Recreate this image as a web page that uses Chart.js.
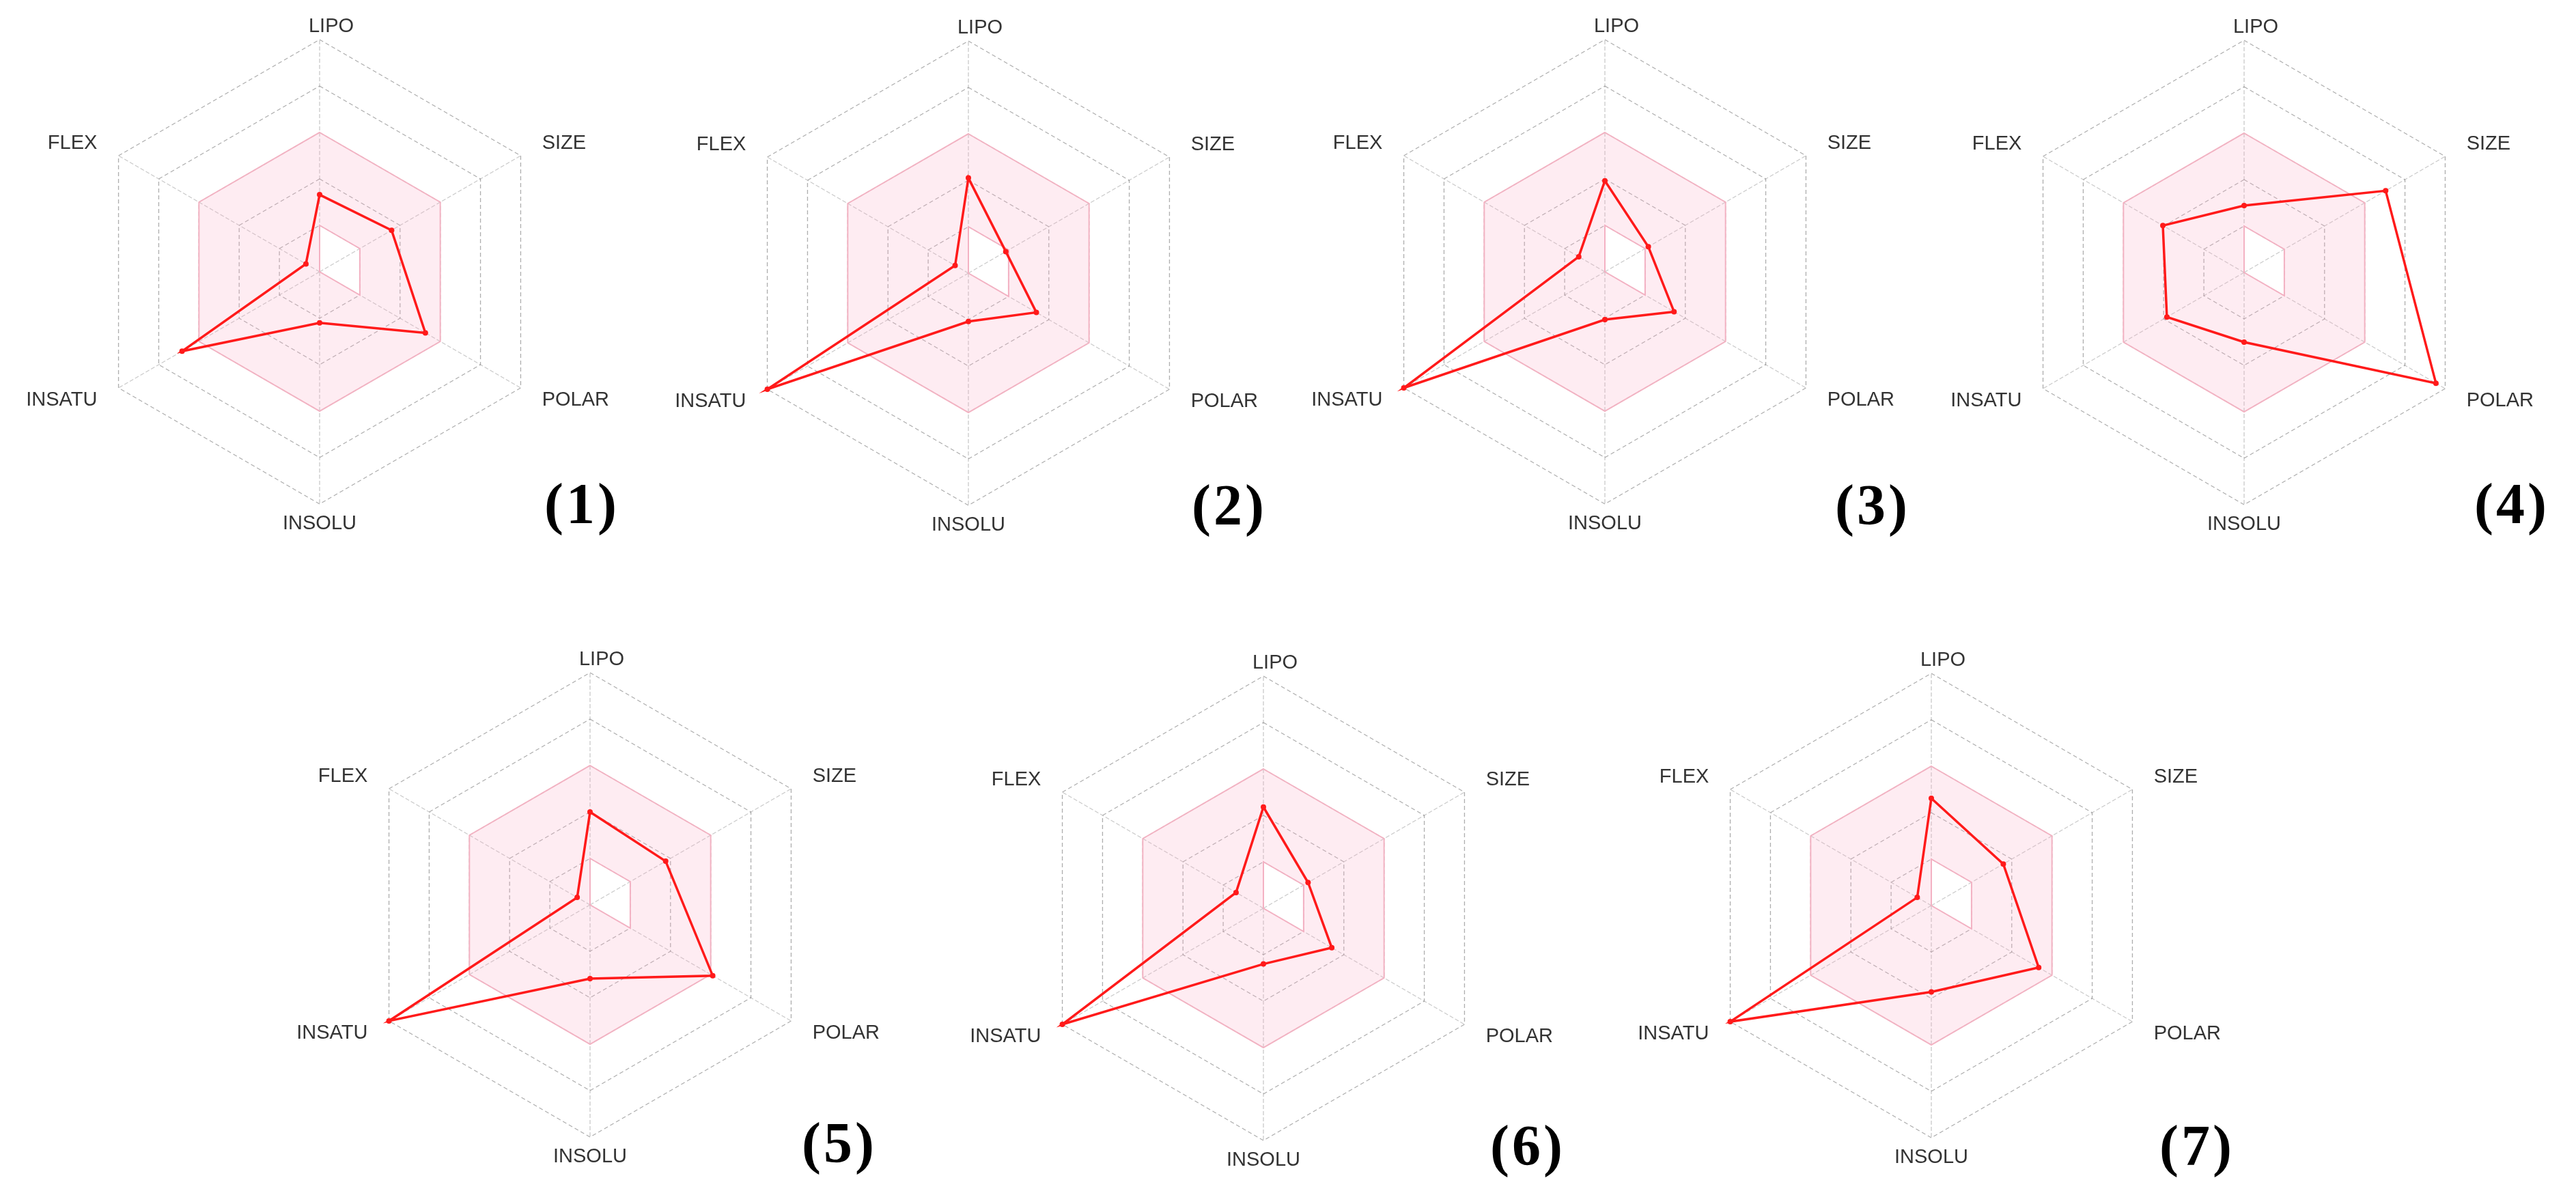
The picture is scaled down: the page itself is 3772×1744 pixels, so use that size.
<!DOCTYPE html>
<html>
<head>
<meta charset="utf-8">
<title>Bioavailability radars</title>
<script src="https://cdn.jsdelivr.net/npm/chart.js@4.4.1/dist/chart.umd.min.js"></script>
<style>
  html, body { margin: 0; padding: 0; background: #fff; }
  body { position: relative; width: 3772px; height: 1744px; overflow: hidden; }
  canvas { position: absolute; }
  .tag {
    position: absolute;
    font-family: "Liberation Serif", "Times New Roman", serif;
    font-weight: bold;
    font-size: 84px;
    letter-spacing: 4px;
    line-height: 1;
    color: #000;
  }
</style>
</head>
<body>
<script>
// axes, clockwise from the top
const axisLabels = ['LIPO', 'SIZE', 'POLAR', 'INSOLU', 'INSATU', 'FLEX'];

// pink band (optimal range), in ring units 0-5
const optimalUpper = [3, 3, 3, 3, 3, 3];
const optimalLower = [1, 1, 1, 0, 0, 0];

// red line of each compound
const compound1 = [1.66, 1.79, 2.63, 1.10, 3.42, 0.34];
const compound2 = [2.05, 0.93, 1.69, 1.04, 5.00, 0.33];
const compound3 = [1.96, 1.08, 1.72, 1.03, 5.00, 0.65];
const compound4 = [1.44, 3.52, 4.77, 1.50, 1.92, 2.02];
const compound5 = [2.00, 1.88, 3.05, 1.59, 5.00, 0.32];
const compound6 = [2.18, 1.11, 1.70, 1.20, 5.00, 0.68];
const compound7 = [2.31, 1.79, 2.67, 1.86, 5.00, 0.35];

const panelTags = ['(1)', '(2)', '(3)', '(4)', '(5)', '(6)', '(7)'];
const compounds = [compound1, compound2, compound3, compound4, compound5, compound6, compound7];

// page layout: radar centre and tag position of each panel
const panels = [
    { cx: 468,  cy: 398,  tx: 797,  ty: 740 },
    { cx: 1418, cy: 400,  tx: 1745, ty: 742 },
    { cx: 2350, cy: 398,  tx: 2687, ty: 742 },
    { cx: 3286, cy: 399,  tx: 3623, ty: 740 },
    { cx: 864,  cy: 1325, tx: 1174, ty: 1676 },
    { cx: 1850, cy: 1330, tx: 2182, ty: 1680 },
    { cx: 2828, cy: 1326, tx: 3162, ty: 1680 }
];

const W = 1100, H = 880, R = 340;

// axis names drawn next to the outer vertices
const axisNamePlugin = {
    id: 'axisNames',
    afterDraw(chart) {
        const scale = chart.scales.r;
        const ctx = chart.ctx;
        ctx.save();
        ctx.font = '29px "Liberation Sans", Arial, sans-serif';
        ctx.fillStyle = '#333';
        ctx.textBaseline = 'middle';
        chart.data.labels.forEach(function(label, i) {
            const deg = Math.round(scale.getIndexAngle(i) * 180 / Math.PI) % 360;
            let gap = 36, align = 'left', dx = 0;
            if (deg === 0) { gap = 19; align = 'center'; dx = 17; }
            else if (deg === 180) { gap = 29; align = 'center'; }
            else if (deg > 180) { align = 'right'; }
            const p = scale.getPointPosition(i, scale.drawingArea + gap);
            ctx.textAlign = align;
            ctx.fillText(label, p.x + dx, p.y);
        });
        ctx.restore();
    }
};

panels.forEach(function(panel, k) {
    const canvas = document.createElement('canvas');
    canvas.width = W;
    canvas.height = H;
    canvas.style.left = (panel.cx - W / 2) + 'px';
    canvas.style.top = (panel.cy - H / 2) + 'px';
    document.body.appendChild(canvas);

    const tag = document.createElement('div');
    tag.className = 'tag';
    tag.textContent = panelTags[k];
    tag.style.left = panel.tx + 'px';
    tag.style.top = (panel.ty - 44) + 'px';
    document.body.appendChild(tag);

    new Chart(canvas.getContext('2d'), {
        type: 'radar',
        data: {
            labels: axisLabels,
            datasets: [
                {
                    data: compounds[k],
                    borderColor: '#ff1a1a',
                    backgroundColor: '#ff1a1a',
                    borderWidth: 3.5,
                    pointRadius: 4,
                    pointBackgroundColor: '#ff1a1a',
                    pointBorderWidth: 0,
                    fill: false,
                    tension: 0
                },
                {
                    data: optimalUpper,
                    borderColor: '#f3b3c3',
                    backgroundColor: 'rgba(250, 170, 195, 0.22)',
                    borderWidth: 2,
                    pointRadius: 0,
                    fill: '+1'
                },
                {
                    data: optimalLower,
                    borderColor: '#f3b3c3',
                    borderWidth: 2,
                    pointRadius: 0,
                    fill: false
                }
            ]
        },
        options: {
            responsive: false,
            animation: false,
            devicePixelRatio: 1,
            layout: {
                padding: { left: W / 2 - R, right: W / 2 - R, top: H / 2 - R, bottom: H / 2 - R }
            },
            plugins: {
                legend: { display: false },
                tooltip: { enabled: false }
            },
            scales: {
                r: {
                    min: 0,
                    max: 5,
                    ticks: { stepSize: 1, display: false },
                    pointLabels: { display: false },
                    grid: {
                        circular: false,
                        color: 'rgba(120, 120, 120, 0.6)',
                        lineWidth: 1.3
                    },
                    border: { dash: [6, 4] },
                    angleLines: {
                        color: 'rgba(150, 150, 150, 0.5)',
                        lineWidth: 1.3,
                        borderDash: [6, 3]
                    }
                }
            }
        },
        plugins: [axisNamePlugin]
    });
});
</script>
</body>
</html>
